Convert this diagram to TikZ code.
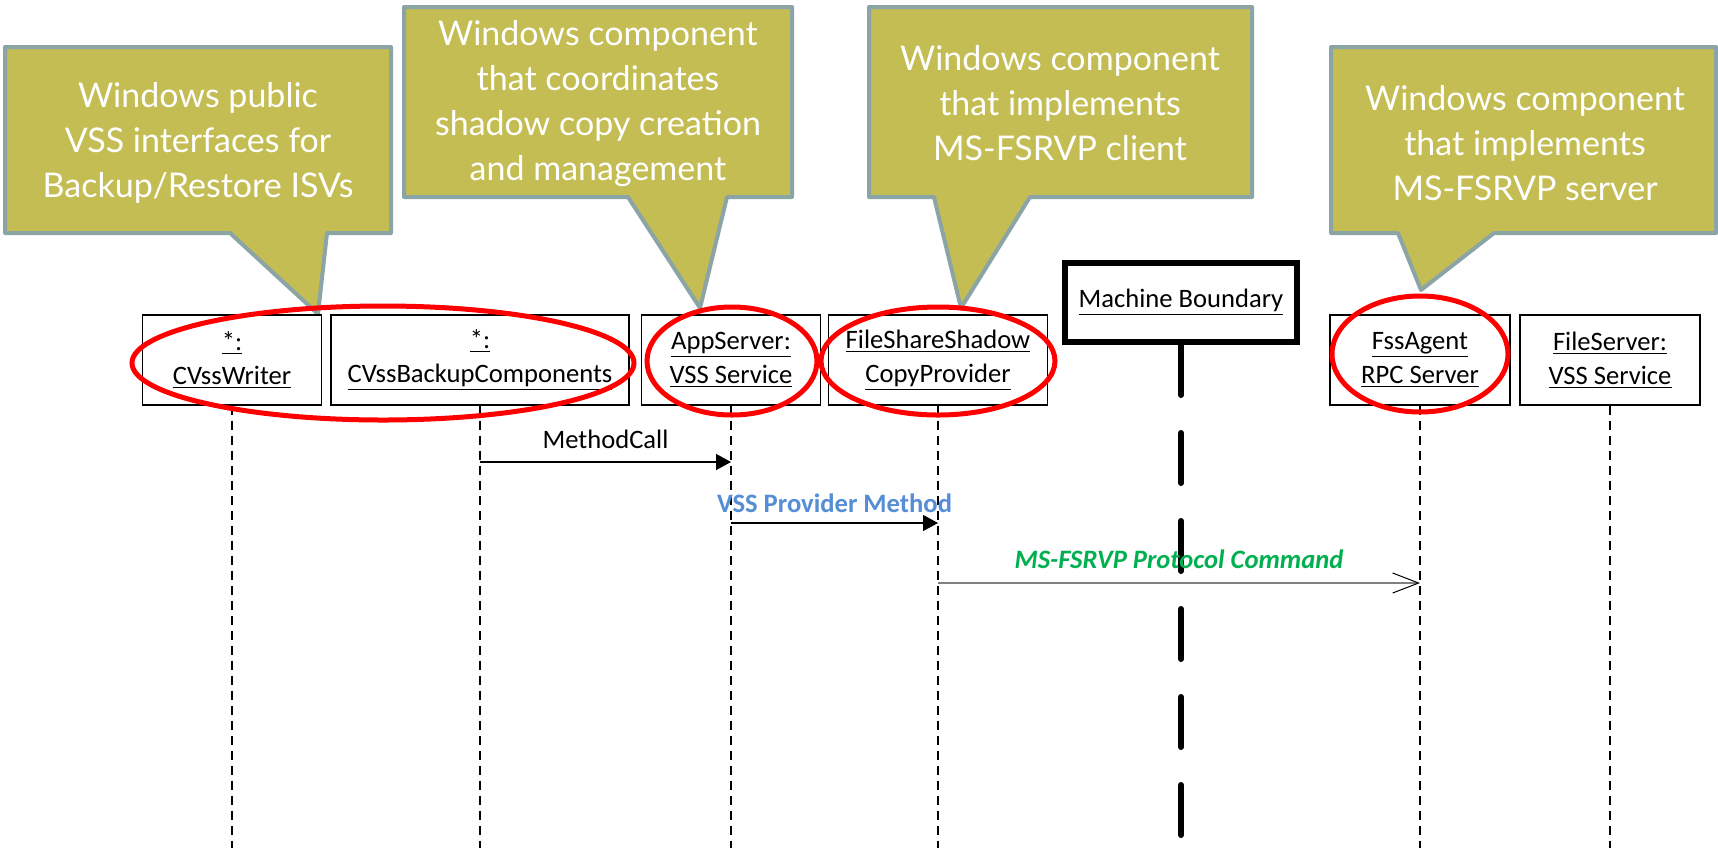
\documentclass[tikz,border=0pt]{standalone}
\usepackage{fontspec}
\setmainfont{Carlito}
\newfontfamily\notefont{Lato}
\usepackage{tikz}
\usetikzlibrary{positioning, calc, arrows.meta}
\definecolor{noteolive}{RGB}{195,189,83}
\definecolor{noteedge}{RGB}{139,164,165}
\definecolor{msgblue}{RGB}{85,142,213}
\definecolor{msggreen}{RGB}{0,176,80}
\tikzset{
	note/.style={fill=noteolive, draw=noteedge, line width=2pt, line join=round},
	note text/.style={text=white, align=center, font=\notefont\fontsize{17pt}{22.5pt}\selectfont},
	object/.style={draw, line width=0.6pt, fill=white, minimum height=45pt, inner sep=0pt, align=center, font=\fontsize{13.3pt}{17pt}\selectfont},
	lifeline/.style={line width=0.6pt, dash pattern=on 4.5pt off 3pt},
	boundary/.style={line width=3pt, line cap=round, dash pattern=on 25pt off 19pt},
	call/.style={line width=0.7pt, -{Triangle[length=7.5pt,width=8pt]}},
	protocol/.style={line width=0.8pt, draw=gray, -{Straight Barb[length=13pt,width=10pt,black,line width=0.5pt]}},
	msg/.style={font=\fontsize{13.3pt}{16pt}\selectfont},
	msg bold/.style={font=\fontsize{13.3pt}{16pt}\selectfont\bfseries},
	msg bolditalic/.style={font=\fontsize{13.3pt}{16pt}\selectfont\bfseries\itshape},
	redring/.style={draw=red, line width=2.5pt}
}

\begin{document}
\begin{tikzpicture}[x=0.5pt, y=-0.5pt]
			\useasboundingbox (0,0) rectangle (1718,848);
			\fill[white] (0,0) rectangle (1718,848);
			\coordinate (bottom) at (0,848);
			\coordinate (m1) at (0,462);
			\coordinate (m2) at (0,523);
			\coordinate (m3) at (0,583);
			\filldraw[note] (5,47) -- (391,47) -- (391,233) -- (327,233) -- (318,314) -- (230,233) -- (5,233) -- cycle;
			\filldraw[note] (404,7) -- (792,7) -- (792,197) -- (727,197) -- (700,308) -- (628,197) -- (404,197) -- cycle;
			\filldraw[note] (869,7) -- (1252,7) -- (1252,197) -- (1030,197) -- (961,308) -- (934,197) -- (869,197) -- cycle;
			\filldraw[note] (1331,47) -- (1716,47) -- (1716,233) -- (1494,233) -- (1421,290) -- (1398,233) -- (1331,233) -- cycle;
			\node[note text] (n1) at (198,143) {Windows public\\VSS interfaces for\\Backup/Restore ISVs};
			\node[note text] (n2) at (598,104) {Windows component\\that coordinates\\shadow copy creation\\and management};
			\node[note text] (n3) at (1060,103) {Windows component\\that implements\\MS-FSRVP client};
			\node[note text] (n4) at (1525,143) {Windows component\\that implements\\MS-FSRVP server};
			\node[object, minimum width=89.5pt] (writer) at (232,360) {\underline{*:}\\\underline{CVssWriter}};
			\node[object, minimum width=149pt] (backup) at (480,360) {\underline{*:}\\\underline{CVssBackupComponents}};
			\node[object, minimum width=89.5pt] (appsvc) at (731,360) {\underline{AppServer:}\\\underline{VSS Service}};
			\node[object, minimum width=109.5pt] (provider) at (938,360) {\underline{FileShareShadow}\\\underline{CopyProvider}};
			\node[object, line width=3pt, minimum width=116pt, minimum height=39.5pt] (boundary) at (1181,302.5) {\raisebox{-2pt}{\underline{Machine Boundary}}};
			\node[object, minimum width=90pt] (agent) at (1420,360) {\underline{FssAgent}\\\underline{RPC Server}};
			\node[object, minimum width=90pt] (filesvc) at (1610,360) {\underline{FileServer:}\\\underline{VSS Service}};
			\foreach \o in {writer,backup,appsvc,provider,agent,filesvc}
				\draw[lifeline] (\o.south) -- (\o.south |- bottom);
			\draw[boundary] (boundary.south) -- (boundary.south |- bottom);
			\draw[call] (backup.south |- m1) -- node[msg, above=3pt] {MethodCall} (appsvc.south |- m1);
			\draw[call] (appsvc.south |- m2) -- node[msg bold, above=1.5pt, text=msgblue] {VSS Provider Method} (provider.south |- m2);
			\draw[protocol] (provider.south |- m3) -- node[msg bolditalic, above=3.5pt, text=msggreen] {MS-FSRVP Protocol Command} (agent.south |- m3);
			\draw[redring] (383,363) ellipse [x radius=251, y radius=57];
			\draw[redring] (732,361) ellipse [x radius=85, y radius=54];
			\draw[redring] (938,361) ellipse [x radius=117, y radius=54];
			\draw[redring] (1420,354) ellipse [x radius=88, y radius=58];
\end{tikzpicture}
\end{document}
